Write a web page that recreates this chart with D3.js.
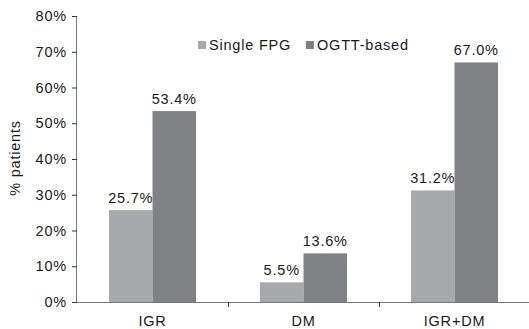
<!DOCTYPE html>
<html>
<head>
<meta charset="utf-8">
<script src="https://cdn.jsdelivr.net/npm/d3@7"></script>
<style>
  body { margin: 0; background: #fff; }
  svg text { font-family: "Liberation Sans", Arial, sans-serif; fill: #1a1a1a; letter-spacing: 0.8px; }
</style>
</head>
<body>
<svg id="chart" width="529" height="329"></svg>
<script>
const categories = ["IGR", "DM", "IGR+DM"];
const seriesNames = ["Single FPG", "OGTT-based"];
const singleFpg = [25.7, 5.5, 31.2];
const ogttBased = [53.4, 13.6, 67.0];
const yTicks = [0, 10, 20, 30, 40, 50, 60, 70, 80];

const colors = ["#a8a9ac", "#808185"];
const width = 529;
const height = 329;
const plotLeft = 77;
const plotTop = 16;
const plotBottom = 302;
const fontSize = "14.5px";

const svg = d3.select("#chart");

const data = categories.map((c, i) => ({
  category: c,
  values: [singleFpg[i], ogttBased[i]],
}));

const xScale = d3.scaleBand().domain(categories).range([plotLeft, plotLeft + 453]).paddingInner(0).paddingOuter(0);
const xInner = d3.scaleBand().domain(seriesNames).range([0, xScale.bandwidth()]).paddingInner(0).paddingOuter(0.735);
const yScale = d3.scaleLinear().domain([0, 80]).range([plotBottom, plotTop]);

// bars
const groups = svg
  .selectAll("g.group")
  .data(data)
  .enter()
  .append("g")
  .attr("class", "group")
  .attr("transform", (d) => `translate(${xScale(d.category)},0)`);

groups
  .selectAll("rect")
  .data((d) => d.values.map((v, i) => ({ name: seriesNames[i], value: v, i })))
  .enter()
  .append("rect")
  .attr("x", (d) => xInner(d.name))
  .attr("y", (d) => yScale(d.value))
  .attr("width", xInner.bandwidth())
  .attr("height", (d) => plotBottom - yScale(d.value))
  .attr("fill", (d) => colors[d.i]);

groups
  .selectAll("text")
  .data((d) => d.values.map((v, i) => ({ name: seriesNames[i], value: v, i })))
  .enter()
  .append("text")
  .attr("x", (d) => xInner(d.name) + xInner.bandwidth() / 2)
  .attr("y", (d) => yScale(d.value) - 7)
  .attr("text-anchor", "middle")
  .attr("font-size", fontSize)
  .text((d) => d.value.toFixed(1) + "%");

// y axis
const yAxis = svg
  .append("g")
  .attr("transform", `translate(${plotLeft},0)`)
  .call(
    d3.axisLeft(yScale)
      .tickValues(yTicks)
      .tickSize(5)
      .tickPadding(5)
      .tickFormat((d) => d + "%")
  );
yAxis.select(".domain").attr("stroke", "#777").attr("d", `M-0.5,${plotTop}V${plotBottom}`);
yAxis.selectAll(".tick line").attr("stroke", "#333");
yAxis.selectAll(".tick text").attr("font-size", fontSize).attr("fill", "#1a1a1a").attr("font-family", "Liberation Sans, Arial, sans-serif");

// x axis
const xAxis = svg
  .append("g")
  .attr("transform", `translate(0,${plotBottom})`)
  .call(d3.axisBottom(xScale).tickSize(0).tickPadding(14));
xAxis.select(".domain").attr("stroke", "#777").attr("d", `M${plotLeft},0.5H${width}`);
xAxis.selectAll(".tick text").attr("font-size", fontSize).attr("fill", "#1a1a1a").attr("font-family", "Liberation Sans, Arial, sans-serif");

svg
  .append("g")
  .selectAll("line")
  .data(categories.slice(1))
  .enter()
  .append("line")
  .attr("x1", (d) => Math.round(xScale(d)) + 0.5)
  .attr("x2", (d) => Math.round(xScale(d)) + 0.5)
  .attr("y1", plotBottom)
  .attr("y2", plotBottom + 5)
  .attr("stroke", "#333");

// axis title
svg
  .append("text")
  .attr("transform", `translate(20,158) rotate(-90)`)
  .attr("text-anchor", "middle")
  .attr("font-size", fontSize)
  .text("% patients");

// legend
const legendX = [198, 306];
const legend = svg
  .selectAll("g.legend")
  .data(seriesNames)
  .enter()
  .append("g")
  .attr("class", "legend")
  .attr("transform", (d, i) => `translate(${legendX[i]},41)`);

legend
  .append("rect")
  .attr("width", 8)
  .attr("height", 8)
  .attr("fill", (d, i) => colors[i]);

legend
  .append("text")
  .attr("x", 11)
  .attr("y", 9)
  .attr("font-size", fontSize)
  .text((d) => d);
</script>
</body>
</html>
